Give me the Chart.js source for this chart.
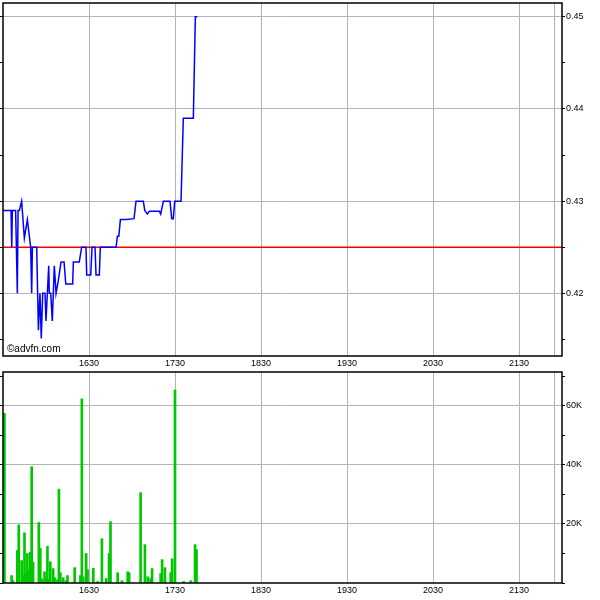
<!DOCTYPE html>
<html>
<head>
<meta charset="utf-8">
<script src="https://cdn.jsdelivr.net/npm/chart.js@4/dist/chart.umd.min.js"></script>
<style>
  html,body{margin:0;padding:0;background:#fff;}
  #wrap{position:relative;width:600px;height:600px;overflow:hidden;}
  canvas{position:absolute;left:0;}
</style>
</head>
<body>
<div id="wrap">
  <canvas id="priceChart" width="600" height="370" style="top:0"></canvas>
  <canvas id="volChart" width="600" height="230" style="top:370px"></canvas>
</div>
<script>
// ---- data (x = minutes after 15:30) ----
const sessionStart = 15 * 60 + 30;
const sessionLength = 390;
const timeTicks = [60, 120, 180, 240, 300, 360];
const priceTicks = [0.42, 0.43, 0.44, 0.45];
const volumeTicks = [20000, 40000, 60000];
const previousClose = 0.425;

const priceMinutes = [0,5.6,6.1,6.5,8.8,10,10.5,11.4,13,14.9,17,19.3,20,20.5,23.5,24.7,25.8,26.7,27.7,29.3,30,31.9,32.3,33.3,34.4,35.8,37,38.6,40.5,42.6,43.8,48.6,49.1,53.2,54.9,57.9,58.4,61.2,62.1,64.2,64.9,67.2,67.9,78.9,79.8,80.8,81.9,86.3,91.4,92.8,97.9,98.9,100.7,102.1,109.1,110,111.9,116.5,117.7,118.8,119.8,124.2,125.8,132.8,134.2,135.6];
const priceValues = [0.429,0.429,0.425,0.429,0.429,0.420,0.429,0.429,0.430,0.426,0.428,0.425,0.420,0.425,0.425,0.416,0.420,0.4151,0.420,0.420,0.417,0.423,0.420,0.420,0.417,0.423,0.420,0.4214,0.4234,0.4234,0.421,0.421,0.4234,0.4234,0.425,0.425,0.422,0.422,0.425,0.425,0.422,0.422,0.425,0.425,0.4262,0.4262,0.428,0.428,0.4281,0.430,0.430,0.429,0.4286,0.4289,0.4289,0.4286,0.430,0.430,0.4281,0.4281,0.430,0.430,0.439,0.439,0.450,0.450];

const volumeMinutes = [1,6,7,10,11,13,14,15,16,17,18,19,20,21,25,26,27,28,29,30,31,32,33,35,36,38,39,40,42,44,45,50,54,55,56,58,59,63,66,69,72,74,75,80,83,87,88,96,99,101,103,104,110,111,113,117,118,120,126,131,134,135];
const volumeValues = [57500,2500,800,11000,19700,7600,2500,17000,3300,10000,4200,10400,39400,7000,20500,11800,1400,500,3800,1400,12400,1100,7200,4900,1800,1100,31800,3500,1800,800,2500,5200,2500,62400,2100,10000,4500,5000,500,15000,1500,10000,20800,3500,800,3800,3500,30600,13000,2100,1500,4900,3200,7900,5200,3500,8200,65400,500,800,13000,11300];

// ---- helpers ----
const FONT = {family: '"Liberation Sans", Arial, sans-serif', size: 9};
const GRID = '#b4b4b4';
function timeLabel(m) {
  const t = sessionStart + m;
  return String(Math.floor(t / 60)) + String(t % 60).padStart(2, '0');
}
const frame = {
  id: 'frame',
  afterDraw(chart, args, opts) {
    const {ctx, chartArea: a} = chart;
    ctx.save();
    ctx.strokeStyle = '#000';
    ctx.lineWidth = 1.5;
    ctx.strokeRect(a.left, a.top, a.right - a.left, a.bottom - a.top);
    if (opts.text) {
      ctx.fillStyle = '#000';
      ctx.font = '10px "Liberation Sans", Arial, sans-serif';
      ctx.textBaseline = 'alphabetic';
      ctx.fillText(opts.text, a.left + 4, a.bottom - 4);
    }
    ctx.restore();
  }
};
function noPad(s) { s.paddingTop = 0; s.paddingBottom = 0; s.paddingLeft = 0; s.paddingRight = 0; }
function xScale(h) {
  return {
    type: 'linear', min: 0, max: sessionLength, offset: false,
    afterBuildTicks: s => { s.ticks = timeTicks.concat([385]).map(v => ({value: v})); },
    afterFit: s => { s.height = h; noPad(s); },
    ticks: {
      autoSkip: false, maxRotation: 0, color: '#000', font: FONT, padding: 2,
      callback: v => v === 385 ? '' : timeLabel(v)
    },
    grid: {color: GRID, lineWidth: 1, drawTicks: false, offset: false},
    border: {display: false}
  };
}
function yRight(min, max, step, majors, fmt) {
  const build = s => {
    const t = [];
    for (let k = Math.ceil(min / step - 1e-9); k * step <= max + 1e-12; k++) t.push({value: +(k * step).toFixed(6)});
    s.ticks = t;
  };
  const isMajor = v => majors.some(p => Math.abs(p - v) < 1e-6);
  return {
    right: {
      type: 'linear', position: 'right', min: min, max: max,
      afterBuildTicks: build,
      afterFit: s => { s.width = 38; noPad(s); },
      ticks: {autoSkip: false, color: '#000', font: FONT, padding: 1, callback: v => isMajor(v) ? fmt(v) : ''},
      grid: {color: c => isMajor(c.tick.value) ? GRID : 'rgba(0,0,0,0)', tickColor: '#000', tickLength: 3},
      border: {display: false}
    },
    left: {
      type: 'linear', position: 'left', min: min, max: max,
      afterBuildTicks: build,
      afterFit: s => { s.width = 3; noPad(s); },
      ticks: {display: false},
      grid: {drawOnChartArea: false, tickColor: '#000', tickLength: 3},
      border: {display: false}
    }
  };
}

// ---- price chart ----
const py = yRight(0.4132, 0.4515, 0.005, priceTicks, v => v.toFixed(2));
new Chart(document.getElementById('priceChart'), {
  type: 'line',
  data: {
    datasets: [
      {
        data: priceMinutes.map((m, i) => ({x: m, y: priceValues[i]})),
        borderColor: '#0000ff', borderWidth: 1.5, pointRadius: 0, tension: 0, fill: false
      },
      {
        data: [{x: 0, y: previousClose}, {x: sessionLength, y: previousClose}],
        borderColor: '#ff0000', borderWidth: 1.6, pointRadius: 0, fill: false
      }
    ]
  },
  options: {
    responsive: false, animation: false, devicePixelRatio: 1,
    layout: {padding: {left: 0, top: 3, right: 0, bottom: 0}},
    plugins: {legend: {display: false}, tooltip: {enabled: false}, frame: {text: '©advfn.com'}},
    scales: {x: xScale(14), y: py.right, yl: py.left}
  },
  plugins: [frame]
});

// ---- volume chart ----
const vy = yRight(0, 71500, 10000, volumeTicks, v => (v / 1000) + 'K');
new Chart(document.getElementById('volChart'), {
  type: 'bar',
  data: {
    datasets: [{
      data: volumeMinutes.map((m, i) => ({x: m, y: volumeValues[i]})),
      backgroundColor: '#00c800', borderWidth: 0, barThickness: 2
    }]
  },
  options: {
    responsive: false, animation: false, devicePixelRatio: 1,
    layout: {padding: {left: 0, top: 2, right: 0, bottom: 0}},
    plugins: {legend: {display: false}, tooltip: {enabled: false}, frame: {}},
    scales: {x: xScale(17), y: vy.right, yl: vy.left}
  },
  plugins: [frame]
});
</script>
</body>
</html>
